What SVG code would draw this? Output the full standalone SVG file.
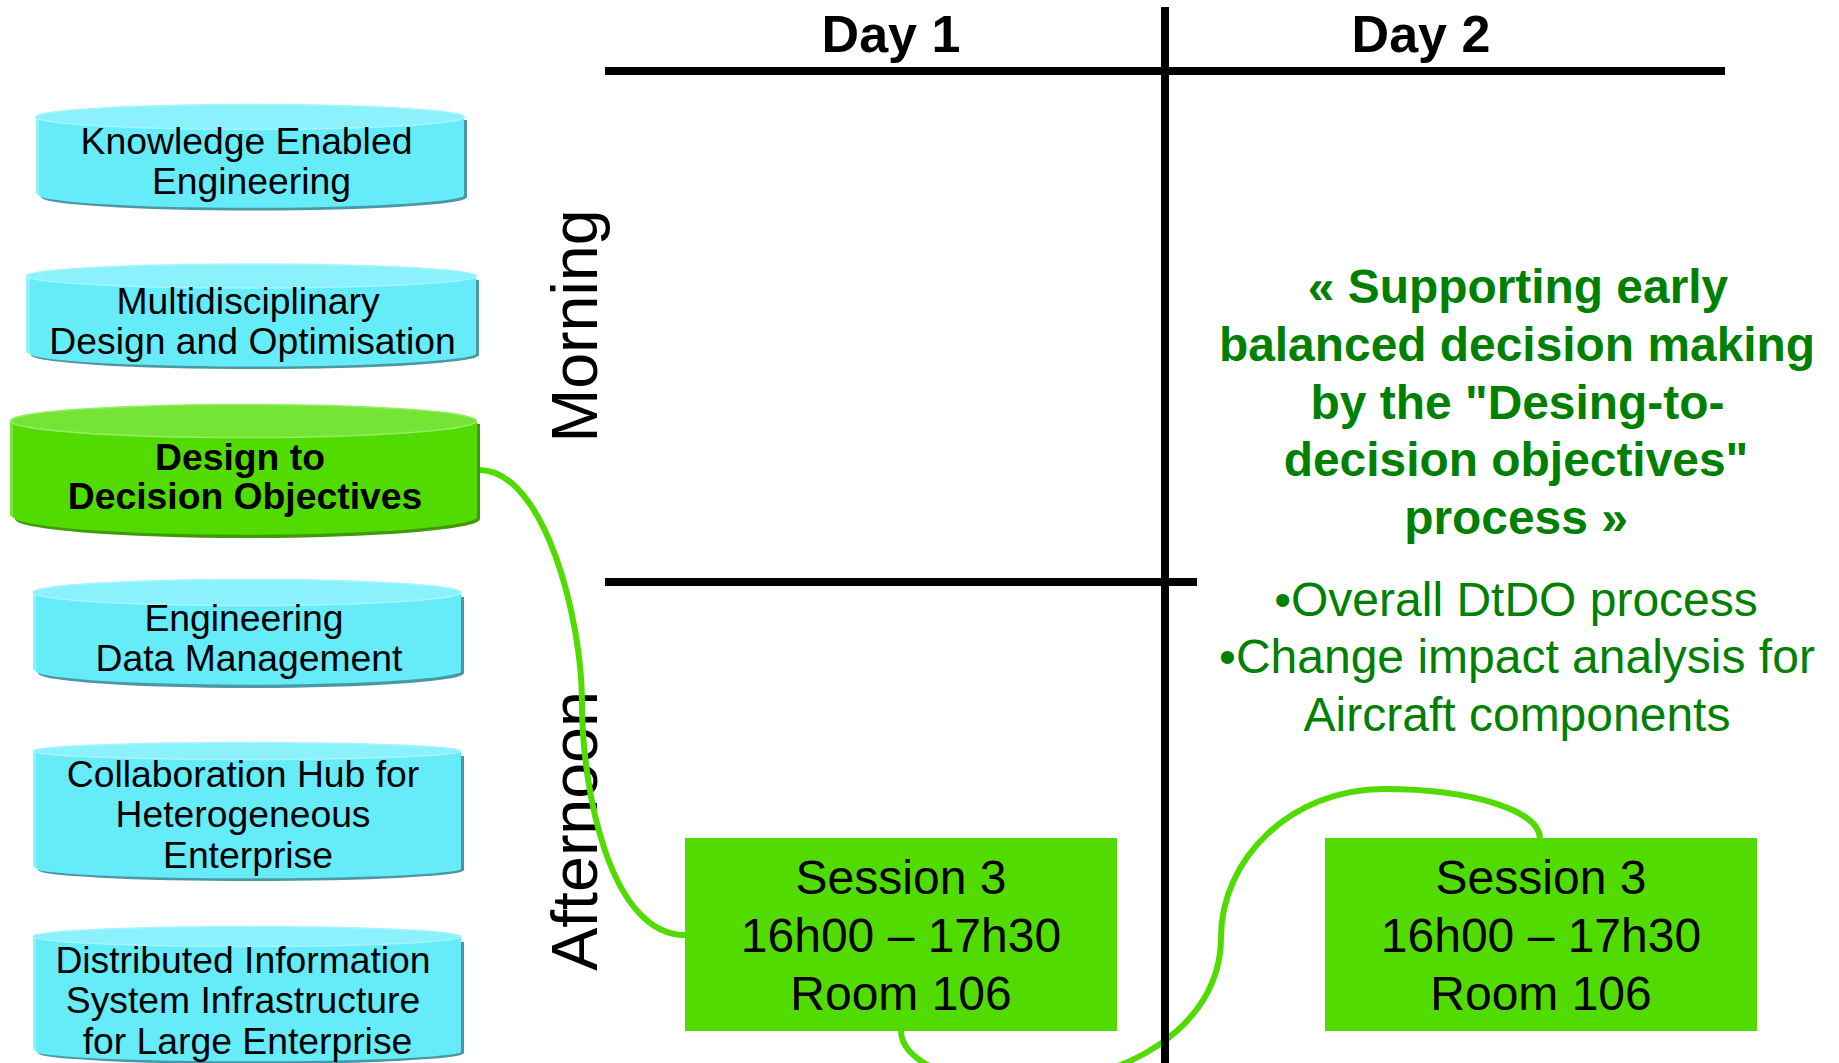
<svg xmlns="http://www.w3.org/2000/svg" width="1839" height="1063" viewBox="0 0 1839 1063">
<style>
text{font-family:"Liberation Sans",Arial,sans-serif;text-anchor:middle;fill:#000}
.c{font-size:37.300px}
.cb{font-size:37.300px;font-weight:bold}
.h{font-size:52px;font-weight:bold}
.s{font-size:48px}
.v{font-size:64.500px}
.gb{font-size:47.900px;font-weight:bold;fill:#008000}
.gr{font-size:48px;fill:#008000}
.face{fill:#66ebf9}.top{fill:#8bf1fc;stroke:#a6f5fd;stroke-width:1.5}.dark{fill:#4a98a6}.pale{fill:#8df2fc}
.gface{fill:#52db00}.gtop{fill:#75e535;stroke:#96ec66;stroke-width:1.5}.gdark{fill:#3f9a0a}.gpale{fill:#78e53a}
.box{fill:#52db00}
.line{stroke:#000;stroke-width:8;fill:none}
.conn{stroke:#52db00;stroke-width:6;fill:none}
</style>
<g id="label-morning"><text class="v" transform="translate(597 326) rotate(-90)">Morning</text></g>
<g id="label-afternoon"><text class="v" transform="translate(597 831) rotate(-90)">Afternoon</text></g>
<g id="connectors">
<path class="conn" d="M479 470C545 470 582 620 582 703C582 790 610 935 685 935"/>
<path class="conn" d="M901 1031C901 1060 950 1084 1020 1084C1120 1084 1221 1030 1221 937C1221 860 1290 789 1384 789C1470 789 1540 810 1540 839"/>
</g>
<g id="grid">
<path class="line" d="M605 71H1725"/>
<path class="line" d="M605 582H1197"/>
<path class="line" d="M1165 7V1063"/>
<text class="h" x="891" y="52">Day 1</text>
<text class="h" x="1421" y="52">Day 2</text>
</g>
<g id="node-kee">
<path class="dark" d="M41 197A213 13.500 0 0 0 467 197V120H463V197Z"/>
<path class="face" d="M36 117V193L41 197A213 13 0 0 0 464 195V117Z"/>
<path class="pale" d="M36 117H39V194L41 197 36 193Z"/>
<ellipse class="top" cx="250" cy="117" rx="214.500" ry="12.500"/>
<text class="c" x="246.500" y="153.500">Knowledge Enabled</text>
<text class="c" x="251.500" y="193.500">Engineering</text>
</g>
<g id="node-mdo">
<path class="dark" d="M31 355A224 14 0 0 0 479 355V280H475V355Z"/>
<path class="face" d="M26.500 276V352L31 355A224 13.500 0 0 0 476 354V276Z"/>
<path class="pale" d="M26.500 276H30V353L31 355 26.500 352Z"/>
<ellipse class="top" cx="251.500" cy="276" rx="225" ry="12"/>
<text class="c" x="248" y="313.500">Multidisciplinary</text>
<text class="c" x="252.500" y="353.500">Design and Optimisation</text>
</g>
<g id="node-dtdo">
<path class="gdark" d="M15 519A232 19 0 0 0 480 519V424H476V519Z"/>
<path class="gface" d="M10 421V515L15 519A232 18 0 0 0 477 517V421Z"/>
<path class="gpale" d="M10 421H13V517L15 519 10 515Z"/>
<ellipse class="gtop" cx="243.500" cy="421" rx="233" ry="16.500"/>
<text class="cb" x="240" y="469.500">Design to</text>
<text class="cb" x="245" y="509">Decision Objectives</text>
</g>
<g id="node-edm">
<path class="dark" d="M38 673A213 15 0 0 0 464 673V597H460V673Z"/>
<path class="face" d="M33 592.500V669L38 673A213 14 0 0 0 461 671V592.500Z"/>
<path class="pale" d="M33 592.500H36V671L38 673 33 669Z"/>
<ellipse class="top" cx="247" cy="592.500" rx="214" ry="13"/>
<text class="c" x="244" y="631">Engineering</text>
<text class="c" x="249" y="671">Data Management</text>
</g>
<g id="node-hub">
<path class="dark" d="M38 870A213 11 0 0 0 464 870V756H460V870Z"/>
<path class="face" d="M33 751V866L38 870A213 10 0 0 0 461 868V751Z"/>
<path class="pale" d="M33 751H36V868L38 870 33 866Z"/>
<ellipse class="top" cx="247" cy="751" rx="214" ry="8.500"/>
<text class="c" x="243" y="786.500">Collaboration Hub for</text>
<text class="c" x="243" y="827">Heterogeneous</text>
<text class="c" x="248" y="868">Enterprise</text>
</g>
<g id="node-dis">
<path class="dark" d="M38 1053A213 11 0 0 0 464 1053V942H460V1053Z"/>
<path class="face" d="M33 936.500V1049L38 1053A213 10 0 0 0 461 1051V936.500Z"/>
<path class="pale" d="M33 936.500H36V1051L38 1053 33 1049Z"/>
<ellipse class="top" cx="247" cy="936.500" rx="214" ry="10"/>
<text class="c" x="243" y="973">Distributed Information</text>
<text class="c" x="243" y="1013">System Infrastructure</text>
<text class="c" x="247.500" y="1054">for Large Enterprise</text>
</g>
<g id="node-session-day1">
<rect class="box" x="685" y="838" width="432" height="193"/>
<text class="s" x="901" y="894">Session 3</text>
<text class="s" x="901" y="952">16h00 – 17h30</text>
<text class="s" x="901" y="1010">Room 106</text>
</g>
<g id="node-session-day2">
<rect class="box" x="1325" y="838" width="432" height="193"/>
<text class="s" x="1541" y="894">Session 3</text>
<text class="s" x="1541" y="952">16h00 – 17h30</text>
<text class="s" x="1541" y="1010">Room 106</text>
</g>
<g id="note-title">
<text class="gb" x="1518" y="303">« Supporting early</text>
<text class="gb" x="1517" y="361">balanced decision making</text>
<text class="gb" x="1517.500" y="419">by the "Desing-to-</text>
<text class="gb" x="1516" y="476">decision objectives"</text>
<text class="gb" x="1516" y="534">process »</text>
</g>
<g id="note-list">
<text class="gr" x="1516" y="615.500">•Overall DtDO process</text>
<text class="gr" x="1517" y="672.500">•Change impact analysis for</text>
<text class="gr" x="1517" y="730.500">Aircraft components</text>
</g>
</svg>
